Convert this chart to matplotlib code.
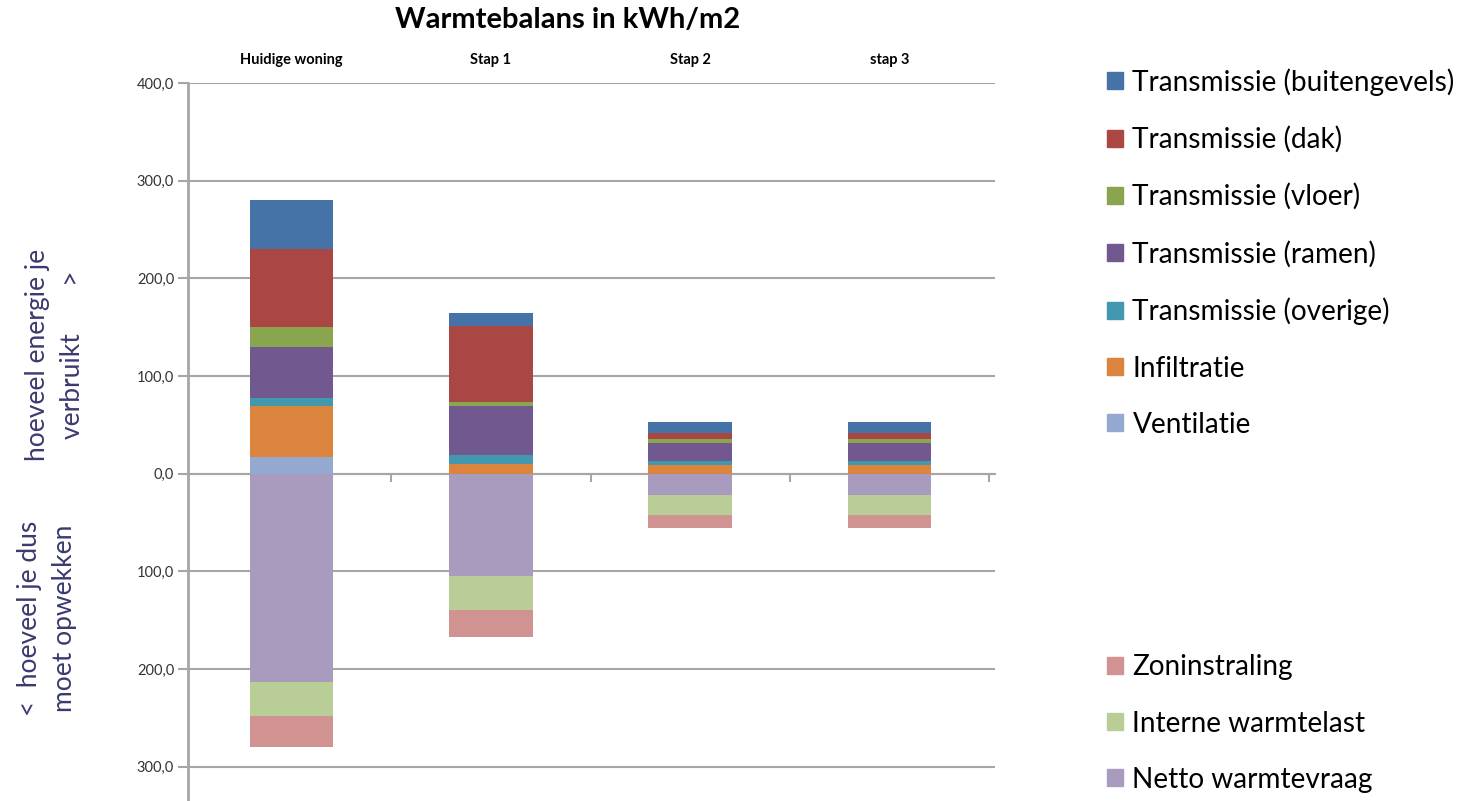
import matplotlib
matplotlib.use('Agg')
import matplotlib.pyplot as plt
from matplotlib.patches import Patch
import numpy as np

plt.rcParams['font.family'] = ['Lato', 'DejaVu Sans']

# categories
stappen = ['Huidige woning', 'Stap 1', 'Stap 2', 'stap 3']

# warmteverlies (positief), van onder naar boven gestapeld
ventilatie = [17, 0, 0, 0]
infiltratie = [52, 10, 8.5, 8.5]
trans_overige = [9, 9, 4.5, 4.5]
trans_ramen = [52, 50.5, 18.5, 18.5]
trans_vloer = [20, 4, 4, 4]
trans_dak = [80, 78, 6, 6]
trans_gevels = [50, 13, 11, 11]

# warmtewinst (negatief), van boven naar onder
netto_warmtevraag = [213, 105, 21.5, 21.5]
interne_warmtelast = [35, 34, 21, 21]
zoninstraling = [32, 28, 13, 13]

pos_series = [
    ('Ventilatie', ventilatie, '#93A9CF'),
    ('Infiltratie', infiltratie, '#DB843D'),
    ('Transmissie (overige)', trans_overige, '#4198AF'),
    ('Transmissie (ramen)', trans_ramen, '#71588F'),
    ('Transmissie (vloer)', trans_vloer, '#89A54E'),
    ('Transmissie (dak)', trans_dak, '#AA4643'),
    ('Transmissie (buitengevels)', trans_gevels, '#4572A7'),
]
neg_series = [
    ('Netto warmtevraag', netto_warmtevraag, '#A99BBD'),
    ('Interne warmtelast', interne_warmtelast, '#B9CD96'),
    ('Zoninstraling', zoninstraling, '#D19392'),
]

fig = plt.figure(figsize=(14.65, 8.01), dpi=100)
ax = fig.add_axes([188/1465, 0, 807/1465, 718/801])

x = np.arange(len(stappen))
w = 0.42

bottom = np.zeros(len(stappen))
for name, vals, col in pos_series:
    ax.bar(x, vals, w, bottom=bottom, color=col, edgecolor='none', zorder=3)
    bottom += np.array(vals)

bottom = np.zeros(len(stappen))
for name, vals, col in neg_series:
    ax.bar(x, -np.array(vals), w, bottom=bottom, color=col, edgecolor='none', zorder=3)
    bottom -= np.array(vals)

ax.set_xlim(-0.52, 3.53)
ax.set_ylim(-335, 400)

yt = np.arange(-300, 401, 100)
ax.set_yticks(yt)
ax.set_yticklabels([('%.1f' % abs(v)).replace('.', ',') for v in yt])
ax.grid(axis='y', color='#a6a6a6', linewidth=1.5, zorder=0)
ax.tick_params(axis='y', length=7, width=1.5, color='#a6a6a6', labelsize=10.5,
               labelcolor='#333333', pad=3)

# categorie labels boven (vet), tick streepjes op de nul-lijn
ax.set_xticks([0.5, 1.5, 2.5, 3.5])
ax.set_xticklabels([])
ax.tick_params(axis='x', length=6, width=1.5, color='#a6a6a6')
for xi, lab in zip(x, stappen):
    ax.text(xi, 1.032, lab, transform=ax.get_xaxis_transform(), ha='center',
            va='center', fontsize=10.5, fontweight='bold')

ax.spines['bottom'].set_position(('data', 0))
ax.spines['bottom'].set_color('#a6a6a6')
ax.spines['bottom'].set_linewidth(1.5)
ax.spines['left'].set_color('#a6a6a6')
ax.spines['left'].set_linewidth(2)
ax.spines['top'].set_visible(False)
ax.spines['right'].set_visible(False)

fig.text(568/1465, 1 - 20/801, 'Warmtebalans in kWh/m2', ha='center', va='center',
         fontsize=21, fontweight='bold')

# as-teksten
navy = '#3A3A70'
fig.text(55/1465, 1 - 355/801, 'hoeveel energie je\nverbruikt       >', rotation=90,
         ha='center', va='center', fontsize=19, color=navy, linespacing=1.5,
         multialignment='center')
fig.text(47/1465, 1 - 618/801, '<  hoeveel je dus\nmoet opwekken', rotation=90,
         ha='center', va='center', fontsize=19, color=navy, linespacing=1.5,
         multialignment='center')

# legenda's
top_handles = [Patch(color=c, label=n) for n, v, c in pos_series[::-1]]
bot_handles = [Patch(color=c, label=n) for n, v, c in neg_series[::-1]]
fig.legend(handles=top_handles, loc='upper left', bbox_to_anchor=(1096/1465, 1 - 57/801),
           frameon=False, fontsize=20.2, handlelength=0.55, handleheight=0.55,
           handletextpad=0.35, labelspacing=1.08, borderaxespad=0)
fig.legend(handles=bot_handles, loc='upper left', bbox_to_anchor=(1096/1465, 1 - 643/801),
           frameon=False, fontsize=20.2, handlelength=0.55, handleheight=0.55,
           handletextpad=0.35, labelspacing=1.08, borderaxespad=0)

fig.savefig('out.png', dpi=100)
